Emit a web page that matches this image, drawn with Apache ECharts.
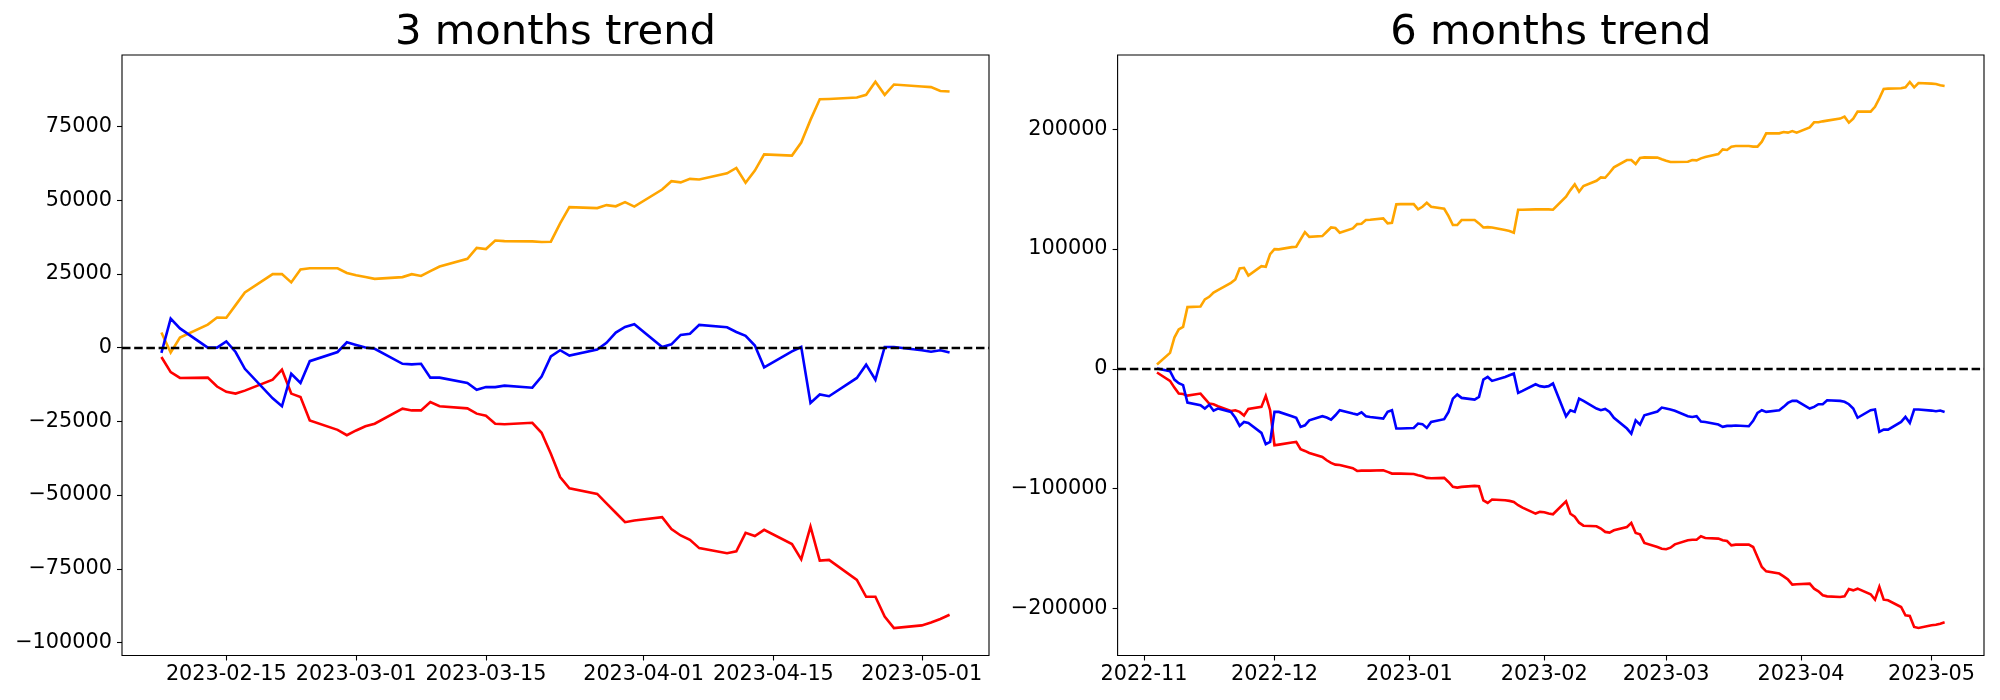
<!DOCTYPE html>
<html>
<head>
<meta charset="utf-8">
<script src="https://cdn.jsdelivr.net/npm/echarts@6/dist/echarts.min.js"></script>
<style>
html,body{margin:0;padding:0;background:#fff;}
#chart{width:2000px;height:700px;}
</style>
</head>
<body>
<div id="chart"></div>
<script>
// ---------- 3 months (left) ----------
const datesL = ['2023-02-08','2023-02-09','2023-02-10','2023-02-13','2023-02-14','2023-02-15','2023-02-16','2023-02-17','2023-02-20','2023-02-21','2023-02-22','2023-02-23','2023-02-24','2023-02-27','2023-02-28',
'2023-03-01','2023-03-02','2023-03-03','2023-03-06','2023-03-07','2023-03-08','2023-03-09','2023-03-10','2023-03-13','2023-03-14','2023-03-15','2023-03-16','2023-03-17','2023-03-20','2023-03-21','2023-03-22','2023-03-23','2023-03-24','2023-03-27','2023-03-28','2023-03-29','2023-03-30','2023-03-31',
'2023-04-03','2023-04-04','2023-04-05','2023-04-06','2023-04-07','2023-04-10','2023-04-11','2023-04-12','2023-04-13','2023-04-14','2023-04-17','2023-04-18','2023-04-19','2023-04-20','2023-04-21','2023-04-24','2023-04-25','2023-04-26','2023-04-27','2023-04-28',
'2023-05-01','2023-05-02','2023-05-03','2023-05-04'];
const orangeL = [5100,-1700,3400,7800,10200,10100,14400,18700,24900,24900,22100,26500,26900,26900,25300,
24500,23900,23300,23900,24900,24300,25900,27500,30100,33800,33400,36300,36100,36000,35800,35900,42100,47600,47300,48300,47900,49300,47800,
53600,56400,56000,57200,57000,59100,60900,55900,60000,65500,65100,69500,77200,84200,84300,84800,85700,90100,85700,89200,
88500,88300,87000,86800];
const redL = [-3200,-8300,-10300,-10200,-13200,-15000,-15600,-14600,-10900,-7500,-15600,-16800,-24700,-27900,-29700,
-28100,-26700,-25800,-20700,-21300,-21300,-18500,-19900,-20600,-22400,-23100,-25800,-26000,-25500,-28900,-36000,-43900,-47700,-49600,-52800,-56000,-59200,-58600,
-57500,-61500,-63700,-65200,-68000,-69700,-69100,-62800,-63900,-61800,-66600,-71800,-60700,-72200,-72000,-78800,-84500,-84500,-91200,-95100,
-94200,-93200,-92000,-90600];
const blueL = [-1800,9800,6500,0,0,2100,-1500,-7200,-17200,-19900,-8900,-12000,-4600,-1500,1800,
900,0,-400,-5500,-5700,-5500,-10200,-10200,-12000,-14300,-13400,-13400,-12900,-13600,-9800,-3000,-900,-2700,-700,1600,5100,7000,7900,
200,1100,4300,4700,7700,6900,5300,4000,700,-6700,-1300,200,-18800,-15900,-16500,-10300,-5800,-10900,200,200,
-900,-1400,-900,-1700];
const xTicksL = ['2023-02-15','2023-03-01','2023-03-15','2023-04-01','2023-04-15','2023-05-01'];
const yTicksL = [-100000,-75000,-50000,-25000,0,25000,50000,75000];

// ---------- 6 months (right) ----------
const datesR = ['2022-11-04','2022-11-07','2022-11-08','2022-11-09','2022-11-10','2022-11-11','2022-11-14','2022-11-15','2022-11-16','2022-11-17','2022-11-18','2022-11-21','2022-11-22','2022-11-23','2022-11-24','2022-11-25','2022-11-28','2022-11-29','2022-11-30',
'2022-12-01','2022-12-02','2022-12-05','2022-12-06','2022-12-07','2022-12-08','2022-12-09','2022-12-12','2022-12-13','2022-12-14','2022-12-15','2022-12-16','2022-12-19','2022-12-20','2022-12-21','2022-12-22','2022-12-23','2022-12-26','2022-12-27','2022-12-28','2022-12-29','2022-12-30',
'2023-01-02','2023-01-03','2023-01-04','2023-01-05','2023-01-06','2023-01-09','2023-01-10','2023-01-11','2023-01-12','2023-01-13','2023-01-16','2023-01-17','2023-01-18','2023-01-19','2023-01-20','2023-01-23','2023-01-24','2023-01-25','2023-01-26','2023-01-27','2023-01-30','2023-01-31',
'2023-02-01','2023-02-02','2023-02-03','2023-02-06','2023-02-07','2023-02-08','2023-02-09','2023-02-10','2023-02-13','2023-02-14','2023-02-15','2023-02-16','2023-02-17','2023-02-20','2023-02-21','2023-02-22','2023-02-23','2023-02-24','2023-02-27','2023-02-28',
'2023-03-01','2023-03-02','2023-03-03','2023-03-06','2023-03-07','2023-03-08','2023-03-09','2023-03-10','2023-03-13','2023-03-14','2023-03-15','2023-03-16','2023-03-17','2023-03-20','2023-03-21','2023-03-22','2023-03-23','2023-03-24','2023-03-27','2023-03-28','2023-03-29','2023-03-30','2023-03-31',
'2023-04-03','2023-04-04','2023-04-05','2023-04-06','2023-04-07','2023-04-10','2023-04-11','2023-04-12','2023-04-13','2023-04-14','2023-04-17','2023-04-18','2023-04-19','2023-04-20','2023-04-21','2023-04-24','2023-04-25','2023-04-26','2023-04-27','2023-04-28',
'2023-05-01','2023-05-02','2023-05-03','2023-05-04'];
const orangeR = [3600,13300,26100,32800,35000,51500,52000,57900,60100,63700,65700,71800,74600,83800,84300,77900,85700,85200,95800,
99900,99700,101600,101900,108000,114100,110200,110800,114400,118000,117500,113600,117200,120800,121100,124200,124400,125600,121400,121900,137300,137500,
137500,133100,135300,138600,135300,133600,127500,120000,120000,124200,124200,121400,118000,118300,118000,115800,115000,113600,132800,132800,133100,133100,
133100,133100,132800,143700,149200,154000,147800,152600,157000,159800,159500,163700,168200,174300,174300,171000,176000,176500,176300,174900,
173700,172600,172600,172900,174300,174000,175700,176800,179300,183200,182700,185500,186000,186000,185500,185500,189600,196600,196600,197700,197200,198500,197200,
201600,205800,205800,206600,207200,208900,210500,205500,208900,214700,214700,218800,225800,233600,233900,234200,235000,239500,235000,238600,
238100,237800,236700,236100];
const redR = [-3100,-10100,-15700,-20700,-21000,-22400,-20700,-24900,-29100,-29600,-31300,-35200,-34600,-36000,-39000,-33500,-31800,-22600,-34600,
-63800,-63300,-61600,-61100,-67200,-68600,-70300,-73600,-76400,-78600,-80000,-80300,-83000,-85300,-85000,-85000,-85000,-84700,-86100,-87500,-87500,-87500,
-87800,-88900,-89700,-91100,-91400,-91100,-94500,-98600,-99200,-98600,-97800,-98100,-109800,-112000,-109200,-109800,-110300,-111200,-113900,-115900,-120900,-119500,
-119800,-120900,-121500,-110700,-121000,-123500,-128500,-131000,-131500,-133400,-136200,-136800,-134900,-132100,-128700,-137100,-138200,-145400,-148800,-150200,
-150700,-149400,-146600,-143200,-142700,-142700,-139900,-141300,-141800,-143200,-143800,-147400,-146800,-146800,-148800,-157100,-165500,-169100,-171000,-173300,-176000,-180200,-179900,
-179400,-183600,-185800,-189100,-190000,-190500,-190000,-183900,-185000,-183600,-188300,-192800,-182100,-192800,-193300,-198900,-205900,-206400,-215600,-216400,
-214200,-213700,-212800,-211700];
const blueR = [200,-2000,-9000,-12000,-13700,-28200,-30400,-33200,-30100,-35000,-33200,-36000,-40900,-47700,-44400,-45200,-53500,-63000,-61000,
-36000,-36000,-39600,-41000,-48500,-47200,-43000,-39600,-40700,-42400,-38800,-34600,-37400,-38200,-36300,-39600,-40200,-41600,-36000,-34600,-49900,-49900,
-49400,-45700,-46200,-49400,-44400,-42100,-36000,-24900,-21500,-24300,-25700,-23400,-9000,-6800,-10100,-6800,-5400,-4000,-20100,-18400,-12900,-14500,
-15100,-14500,-12300,-39600,-34600,-36000,-24900,-26800,-33200,-34600,-33500,-36000,-40900,-49900,-54100,-43000,-46600,-38800,-35700,-32400,
-33200,-34000,-35100,-39600,-40200,-39600,-44000,-44400,-46600,-48500,-47700,-47700,-47400,-48000,-43500,-36800,-34600,-36000,-34600,-31800,-28500,-26800,-26800,
-33200,-31800,-29600,-29600,-26300,-26800,-27600,-29600,-33200,-40900,-34600,-34000,-52700,-50800,-50800,-44400,-40200,-45200,-34000,-34000,
-34900,-35400,-34900,-36000];
const xTicksR = ['2022-11-01','2022-12-01','2023-01-01','2023-02-01','2023-03-01','2023-04-01','2023-05-01'];
const yTicksR = [-200000,-100000,0,100000,200000];

const titles = ['3 months trend','6 months trend'];

// ---------- helpers ----------
const FONT = 'DejaVu Sans';
function ts(s){ const p = s.split('-').map(Number); return Date.UTC(p[0], p[1]-1, p[2] || 1); }
function pairs(dates, vals){ return dates.map((d,i)=>[ts(d), vals[i]]); }
function minus(v){ return String(v).replace('-', '\u2212'); }

const W = 2000, H = 700;
const grids = [
  {left:122, right:W-989, top:55, bottom:H-655.5},
  {left:1117.6, right:W-1984, top:55, bottom:H-655.5}
];

function xAxis(idx, dates, ticks, fmt){
  const first = ts(dates[0]), last = ts(dates[dates.length-1]);
  const pad = (last-first)*0.05;
  const tv = ticks.map(ts);
  return {
    type:'value', gridIndex:idx, min:first-pad, max:last+pad,
    axisLine:{show:false, onZero:false},
    splitLine:{show:false},
    axisTick:{show:true, inside:false, length:5, customValues:tv, lineStyle:{color:'#000', width:1.1}},
    axisLabel:{show:true, customValues:tv, margin:9, color:'#000', fontFamily:FONT, fontSize:20.8,
      formatter:fmt}
  };
}
function yAxis(idx, ticks, mn, mx){
  return {
    type:'value', gridIndex:idx, min:mn, max:mx,
    axisLine:{show:false, onZero:false},
    splitLine:{show:false},
    axisTick:{show:true, inside:false, length:5, customValues:ticks, lineStyle:{color:'#000', width:1.1}},
    axisLabel:{show:true, customValues:ticks, margin:10, color:'#000', fontFamily:FONT, fontSize:20.8,
      formatter:minus}
  };
}
function line(idx, data, color, withZero){
  const s = {
    type:'line', xAxisIndex:idx, yAxisIndex:idx, data:data,
    showSymbol:false, symbol:'none', silent:true,
    lineStyle:{color:color, width:2.6, cap:'butt', join:'miter'},
    itemStyle:{color:color}
  };
  if (withZero){
    s.markLine = {
      silent:true, symbol:['none','none'], z:10,
      label:{show:false},
      lineStyle:{color:'#000', width:2.3, type:[8.5,3.7]},
      data:[{yAxis:0}]
    };
  }
  return s;
}

const option = {
  animation:false,
  backgroundColor:'#fff',
  grid: grids.map(g=>Object.assign({show:true, borderColor:'#000', borderWidth:1.1, backgroundColor:'transparent', containLabel:false}, g)),
  xAxis:[
    xAxis(0, datesL, xTicksL, v=>new Date(v).toISOString().slice(0,10)),
    xAxis(1, datesR, xTicksR, v=>new Date(v).toISOString().slice(0,7))
  ],
  yAxis:[
    yAxis(0, yTicksL, -104400, 99200),
    yAxis(1, yTicksR, -239400, 262000)
  ],
  series:[
    line(0, pairs(datesL, orangeL), '#FFA500', false),
    line(0, pairs(datesL, redL), '#FF0000', false),
    line(0, pairs(datesL, blueL), '#0000FF', true),
    line(1, pairs(datesR, orangeR), '#FFA500', false),
    line(1, pairs(datesR, redR), '#FF0000', false),
    line(1, pairs(datesR, blueR), '#0000FF', true)
  ],
  graphic: titles.map((t,i)=>{
    const g = grids[i];
    const cx = g.left + (W - g.right - g.left)/2;
    return {type:'text', x:cx, y:33.5, silent:true,
      style:{text:t, align:'center', verticalAlign:'middle', fill:'#000', font:'41.7px "DejaVu Sans"'}};
  })
};

const chart = echarts.init(document.getElementById('chart'), null, {renderer:'canvas', width:W, height:H});
chart.setOption(option);
</script>
</body>
</html>
